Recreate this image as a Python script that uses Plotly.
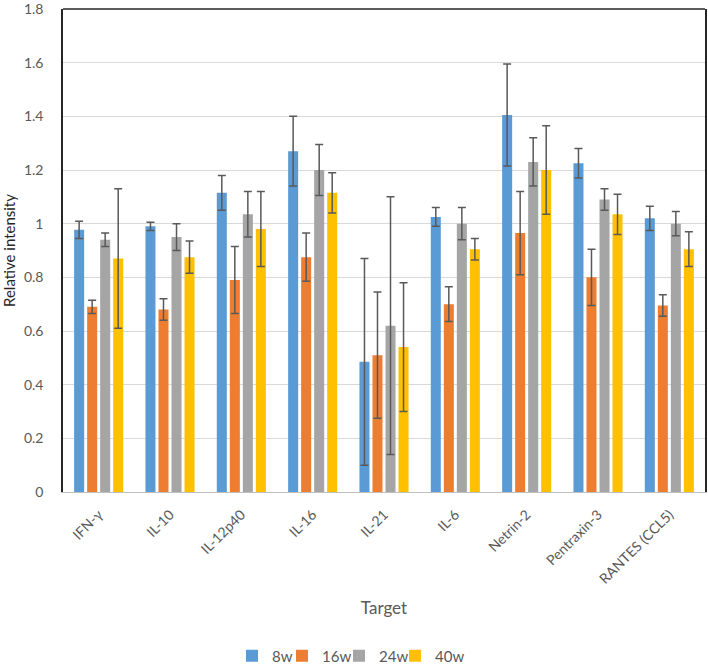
import plotly.graph_objects as go

categories = ["IFN-γ", "IL-10", "IL-12p40", "IL-16", "IL-21", "IL-6", "Netrin-2", "Pentraxin-3", "RANTES (CCL5)"]
series_names = ["8w", "16w", "24w", "40w"]

v_8w = [0.977, 0.99, 1.115, 1.27, 0.485, 1.025, 1.405, 1.225, 1.02]
e_8w = [0.032, 0.015, 0.065, 0.13, 0.385, 0.035, 0.19, 0.055, 0.045]
v_16w = [0.69, 0.68, 0.79, 0.875, 0.51, 0.70, 0.965, 0.80, 0.695]
e_16w = [0.025, 0.04, 0.125, 0.09, 0.235, 0.065, 0.155, 0.105, 0.04]
v_24w = [0.94, 0.95, 1.035, 1.20, 0.62, 1.00, 1.23, 1.09, 1.00]
e_24w = [0.025, 0.05, 0.085, 0.095, 0.48, 0.06, 0.09, 0.04, 0.045]
v_40w = [0.87, 0.875, 0.98, 1.115, 0.54, 0.905, 1.20, 1.035, 0.905]
e_40w = [0.26, 0.06, 0.14, 0.075, 0.24, 0.04, 0.165, 0.075, 0.065]

values = [v_8w, v_16w, v_24w, v_40w]
errors = [e_8w, e_16w, e_24w, e_40w]
colors = ["#5B9BD5", "#ED7D31", "#A5A5A5", "#FFC000"]

y_tickvals = [0, 0.2, 0.4, 0.6, 0.8, 1.0, 1.2, 1.4, 1.6, 1.8]
y_ticktext = ["0", "0.2", "0.4", "0.6", "0.8", "1", "1.2", "1.4", "1.6", "1.8"]

font_family = "Lato, 'Open Sans', sans-serif"
text_color = "#595959"

W, H = 708, 666
legend_ids = ["legend", "legend2", "legend3", "legend4"]
legend_left_px = [232, 282, 339, 395]

fig = go.Figure()
for name, vals, errs, col, lid in zip(series_names, values, errors, colors, legend_ids):
    fig.add_trace(go.Bar(
        x=categories, y=vals, name=name, marker_color=col,
        marker_line_width=0, legend=lid,
        error_y=dict(type="data", array=errs, visible=True,
                     color="#595959", thickness=1.5, width=4),
    ))

legend_layouts = {}
for lid, lx in zip(legend_ids, legend_left_px):
    legend_layouts[lid] = dict(
        orientation="h", xref="container", yref="container",
        x=lx / W, xanchor="left", y=1 - 656 / H, yanchor="middle",
        font=dict(size=15, color=text_color), itemwidth=30,
        bgcolor="rgba(0,0,0,0)", borderwidth=0,
    )

fig.update_layout(
    width=W, height=H,
    margin=dict(l=63, r=3, t=9, b=174, autoexpand=False),
    paper_bgcolor="white", plot_bgcolor="white",
    barmode="group", bargap=0.27, bargroupgap=0.23,
    font=dict(family=font_family, color=text_color, size=13),
    showlegend=True,
    xaxis=dict(
        tickangle=-45, tickfont=dict(size=14, color=text_color),
        showline=True, linecolor="#bfbfbf", linewidth=1, automargin=False,
        ticks="", showgrid=False, ticklabelstandoff=8,
        title=dict(text="Target", font=dict(size=17, color=text_color), standoff=16),
    ),
    yaxis=dict(
        range=[0, 1.8001], tickvals=y_tickvals, ticktext=y_ticktext,
        tickfont=dict(size=14, color=text_color), automargin=False,
        showgrid=True, gridcolor="#d9d9d9", gridwidth=1,
        showline=True, mirror=True, linecolor="#262626", linewidth=1.5,
        ticks="", zeroline=False, ticklabelstandoff=15, ticklabeloverflow="allow",
        title=dict(text="Relative intensity", font=dict(size=15, color="#262626"), standoff=6),
    ),
    shapes=[dict(type="line", xref="paper", yref="paper", x0=0, x1=1, y0=1, y1=1,
                 line=dict(color="#262626", width=1.5))],
    **legend_layouts,
)

fig.write_html("out.html", config={"displayModeBar": False},
               post_script="document.body.style.margin='0px';document.body.style.overflow='hidden';")
